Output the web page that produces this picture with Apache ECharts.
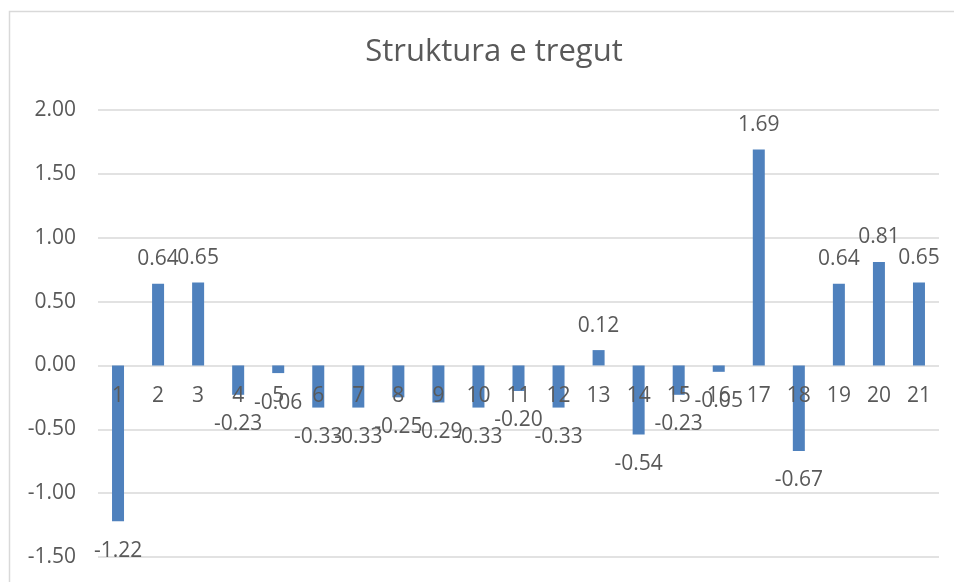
<!DOCTYPE html>
<html>
<head>
<meta charset="utf-8">
<script src="https://cdn.jsdelivr.net/npm/echarts@6/dist/echarts.min.js"></script>
<style>
  html, body { margin: 0; padding: 0; background: #fff; }
  #chart { width: 954px; height: 582px; }
</style>
</head>
<body>
<div id="chart"></div>
<script>
// data
const categories = ['1','2','3','4','5','6','7','8','9','10','11','12','13','14','15','16','17','18','19','20','21'];
const values = [-1.22, 0.64, 0.65, -0.23, -0.06, -0.33, -0.33, -0.25, -0.29, -0.33, -0.20, -0.33, 0.12, -0.54, -0.23, -0.05, 1.69, -0.67, 0.64, 0.81, 0.65];
const yTicks = { min: -1.5, max: 2, interval: 0.5 };

const textColor = '#595959';
const font = 'Open Sans';

const chart = echarts.init(document.getElementById('chart'));

const barData = values.map(v => ({
  value: v,
  label: { position: v < 0 ? 'bottom' : 'top', distance: v < 0 ? 19 : 14 }
}));

// category names sit just under the zero line, like Excel does it
const zeroRow = categories.map(c => [c, 0]);

chart.setOption({
  animation: false,
  textStyle: { fontFamily: font },
  title: {
    text: 'Struktura e tregut',
    left: 489,
    textAlign: 'center',
    top: 32,
    textStyle: { fontFamily: font, fontSize: 31, fontWeight: 'normal', color: textColor }
  },
  graphic: [{
    type: 'rect',
    shape: { x: 9.5, y: 11.5, width: 980, height: 620 },
    style: { fill: 'none', stroke: '#d9d9d9', lineWidth: 1.5 },
    silent: true
  }],
  grid: { left: 98, right: 15, top: 110, bottom: 25, containLabel: false, outerBoundsMode: 'none' },
  xAxis: {
    type: 'category',
    data: categories,
    axisLine: { show: false },
    axisTick: { show: false },
    axisLabel: { show: false }
  },
  yAxis: {
    type: 'value',
    min: yTicks.min,
    max: yTicks.max,
    interval: yTicks.interval,
    axisLine: { show: false },
    axisTick: { show: false },
    splitLine: { lineStyle: { color: '#d9d9d9', width: 1.5 } },
    axisLabel: {
      margin: 22,
      fontSize: 21,
      color: textColor,
      fontFamily: font,
      formatter: v => v.toFixed(2)
    }
  },
  series: [{
    type: 'bar',
    data: barData,
    barWidth: 12,
    itemStyle: { color: '#4f81bd' },
    label: {
      show: true,
      fontSize: 21,
      color: textColor,
      fontFamily: font,
      formatter: p => p.value.toFixed(2)
    }
  }, {
    type: 'scatter',
    data: zeroRow,
    symbolSize: 0,
    silent: true,
    z: 5,
    itemStyle: { opacity: 1 },
    label: {
      show: true,
      position: 'bottom',
      distance: 20,
      fontSize: 21,
      color: textColor,
      opacity: 1,
      fontFamily: font,
      formatter: p => p.value[0]
    }
  }]
});
</script>
</body>
</html>
